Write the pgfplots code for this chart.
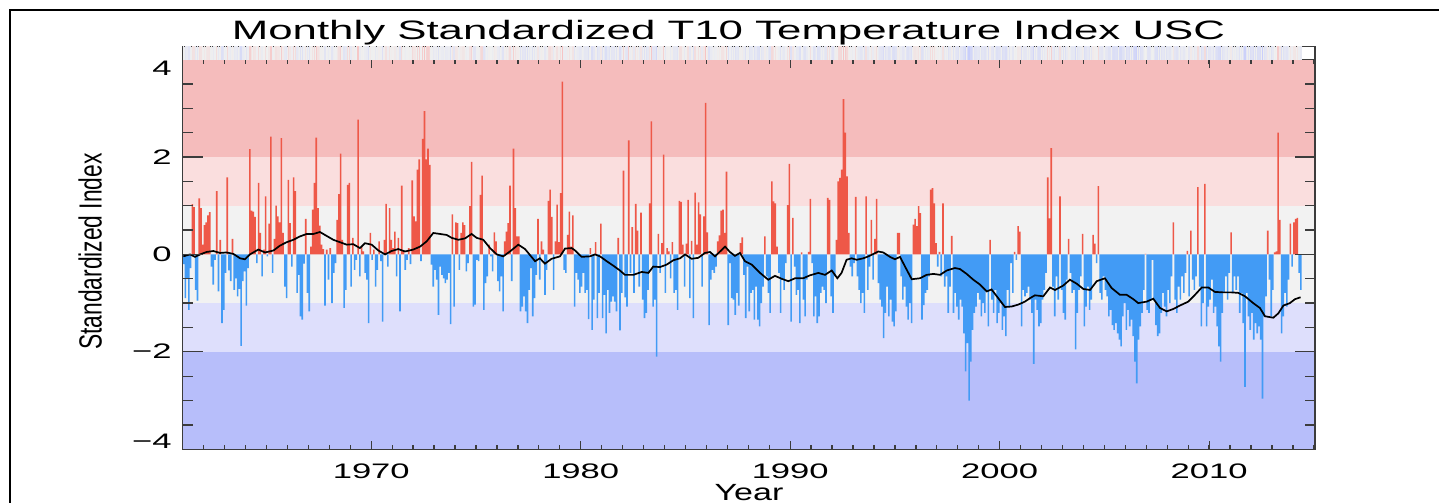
\documentclass[border=0pt]{standalone}
\usepackage{fontspec}
\setmainfont{Liberation Sans}
\usepackage{graphicx}
\usepackage{pgfplots}
\usepackage{pgfplotstable}
\pgfplotsset{compat=1.18}

\definecolor{axisgray}{RGB}{60,60,60}
\definecolor{barred}{RGB}{238,88,72}
\definecolor{barblue}{RGB}{66,155,245}
\definecolor{bandA}{RGB}{245,188,188}
\definecolor{bandB}{RGB}{250,222,222}
\definecolor{bandC}{RGB}{242,242,242}
\definecolor{bandD}{RGB}{222,223,252}
\definecolor{bandE}{RGB}{183,190,250}
\definecolor{stripgray}{RGB}{238,238,238}

\newcommand{\tl}[1]{\scalebox{1.73}[1.05]{\fontsize{10bp}{12bp}\selectfont #1}}

\pgfplotstableread[row sep=\\]{
v\\
-0.2\\ -0.9\\ -0.5\\
-1.14\\ -0.28\\ 1.03\\ 0.97\\ -0.73\\ -0.95\\ 1.15\\ 0.95\\ 0.2\\ 0.6\\
0.66\\ 0.8\\ 0.87\\ -0.25\\ -0.62\\ -0.11\\ 1.3\\ -0.76\\ 0.3\\ -1.41\\
-1.14\\ -0.38\\ 1.58\\ -0.33\\ -0.55\\ 0.32\\ -0.73\\ -0.49\\ -0.86\\ -0.71\\
-1.88\\ -0.55\\ -0.35\\ -1.05\\ -0.28\\ 2.16\\ 0.9\\ 0.88\\ 0.77\\ -0.18\\
1.47\\ 0.44\\ -0.45\\ 0.1\\ 1.19\\ -0.04\\ 0.63\\ 2.42\\ -0.38\\ 0.32\\
1.0\\ 0.78\\ 0.66\\ 2.39\\ 0.44\\ -0.66\\ -0.9\\ 1.53\\ 0.64\\ -0.25\\
1.58\\ 1.3\\ -0.79\\ -0.42\\ -1.27\\ -1.34\\ -0.19\\ 0.73\\ -0.79\\ -1.17\\
0.16\\ 0.92\\ 1.47\\ 2.4\\ 0.95\\ 0.59\\ 0.2\\ 0.11\\ -1.05\\ 0.1\\
-0.52\\ 0.13\\ -1.0\\ -0.38\\ -0.18\\ 0.71\\ 1.24\\ 2.07\\ 0.3\\ -1.1\\
-0.73\\ 1.43\\ 1.47\\ -0.66\\ 0.34\\ -0.32\\ -0.11\\ 2.77\\ -0.45\\ 0.16\\
0.06\\ -0.38\\ -0.52\\ -1.41\\ 0.44\\ -0.11\\ 0.1\\ -0.66\\ -0.32\\ 0.27\\
-0.14\\ -1.38\\ 0.3\\ 1.04\\ -0.25\\ 0.95\\ 0.3\\ 0.13\\ 0.47\\ -0.45\\
0.34\\ -1.17\\ 1.41\\ 0.06\\ -0.32\\ -0.11\\ 0.13\\ -0.2\\ 1.52\\ 0.78\\
0.68\\ 1.74\\ 1.95\\ -0.14\\ 2.37\\ 2.94\\ 1.95\\ 2.17\\ 1.84\\ -0.21\\
-0.66\\ -0.32\\ -0.52\\ -1.24\\ -0.25\\ -0.42\\ -0.49\\ -0.59\\ -0.52\\ -0.38\\
-1.43\\ 0.82\\ -1.07\\ 0.66\\ 0.64\\ -0.32\\ 0.44\\ 0.66\\ 0.6\\ -0.35\\
-0.18\\ 0.99\\ 1.9\\
-1.07\\ -1.03\\ -0.11\\ -0.14\\ 1.22\\ 1.62\\ -1.14\\ -0.59\\ -0.45\\ 0.2\\
-0.04\\ -0.35\\ 0.45\\ 0.27\\ -0.55\\ -0.76\\ -0.45\\ -1.17\\ 0.27\\ 0.47\\
0.64\\ 1.41\\ -0.55\\ 2.17\\ 0.95\\ 0.37\\ 0.37\\ -1.17\\ -1.07\\ -0.86\\
-1.17\\ -1.41\\ -0.73\\ -0.28\\ -1.27\\ -0.9\\ -0.42\\ 0.73\\ -0.52\\ 0.27\\
0.1\\ -0.83\\ -0.32\\ 1.1\\ 1.33\\ 0.77\\ -0.73\\ 0.27\\ 1.02\\ 0.25\\
1.26\\ 3.55\\ -0.32\\ -0.38\\ 0.4\\ 0.88\\ 0.16\\ 0.8\\ -1.07\\ -0.38\\
-0.52\\ -0.79\\ -0.66\\ -0.38\\ -0.79\\ -0.73\\ -1.33\\ 0.13\\ -1.55\\ -0.93\\
0.25\\ -1.31\\ -0.79\\ 0.63\\ -1.31\\ -0.83\\ -1.62\\ -0.73\\ -1.2\\ -0.97\\
-0.86\\ -0.97\\ -1.17\\ 0.34\\ -1.56\\ -0.79\\ 1.72\\ -0.88\\ -1.07\\ 2.34\\
-0.38\\ 0.56\\ -0.79\\ 1.04\\ 0.49\\ -0.66\\ 0.86\\ -0.93\\ -1.31\\ -1.2\\
-0.73\\ 1.05\\ 2.73\\ -1.07\\ -0.93\\ -2.1\\ 0.42\\ -0.38\\ 0.23\\ 2.05\\
-0.79\\ 0.13\\ 0.06\\ -0.49\\ 0.25\\ -0.79\\ -0.73\\ -1.14\\ 1.1\\ 1.08\\
0.2\\ -0.66\\ 0.22\\ 1.12\\ -0.9\\ 0.28\\ -1.31\\ 1.27\\ 0.2\\ 1.07\\
0.82\\ -0.66\\ 0.78\\ 3.11\\ 0.45\\ -1.45\\ -0.52\\ -0.32\\ -0.38\\ -0.25\\
0.27\\ 0.39\\ 0.9\\ 0.92\\ 0.44\\ 1.7\\ -1.45\\ -0.18\\ -0.9\\ -0.93\\
-1.24\\ -0.79\\ -1.05\\ 0.23\\ 0.35\\ -0.42\\ -1.31\\ -0.25\\ -1.17\\ -0.79\\
-0.73\\ -1.34\\ -0.66\\ -1.34\\ -1.48\\ -1.0\\ -0.66\\ 0.37\\ -0.45\\ -0.79\\
-1.2\\ 1.5\\ 1.09\\ 1.05\\ 0.16\\ -0.38\\ -1.2\\ -0.52\\ -0.73\\ -0.18\\
1.01\\ 1.86\\ -1.38\\ 0.75\\ -0.25\\ -0.83\\ -0.73\\ -1.41\\ 0.04\\ -0.93\\
-1.27\\ -0.52\\ 0.05\\ 1.14\\ -0.18\\ -1.27\\ -0.86\\ -1.41\\ -1.27\\ -0.79\\
-0.66\\ -0.73\\ -1.0\\ 1.16\\ 1.12\\ -0.86\\ -1.2\\ -0.45\\ 0.3\\ 1.5\\
1.57\\ 1.74\\ 3.19\\ 2.5\\ 1.6\\ 0.44\\ -0.25\\ -0.45\\ -0.18\\ 1.18\\
-0.45\\ -0.73\\ -1.0\\ -0.79\\ -1.2\\ 1.19\\ -0.73\\ -0.25\\ 0.71\\ -0.52\\
0.32\\ 1.14\\ -0.59\\ -0.93\\ -1.07\\ -1.72\\ -1.2\\ -0.66\\ -1.27\\ -0.93\\
-1.38\\ -1.48\\ -1.17\\ 0.44\\ 0.44\\ -0.45\\ -0.93\\ -0.66\\ -1.07\\ -1.34\\
-1.0\\ -1.41\\ 0.61\\ 0.73\\ 0.58\\ 0.99\\ 0.85\\ -1.34\\ -1.04\\ -0.79\\
-0.73\\ -0.45\\ 1.33\\ 1.36\\ 1.05\\ 0.23\\ -0.25\\ 0.05\\ -0.45\\ 1.05\\
-0.66\\ -0.45\\ -1.2\\ -0.66\\ 0.38\\ -1.2\\ -0.79\\ -1.07\\ -1.34\\ -0.93\\
-1.07\\ -1.62\\ -2.4\\ -1.82\\ -3.0\\ -2.2\\ -1.55\\ -1.2\\ -1.07\\ -0.79\\
-0.93\\ -1.27\\ -1.0\\ -1.2\\ -0.73\\ -1.48\\ 0.3\\ -0.93\\ -1.2\\ -0.73\\
-1.41\\ -1.2\\ -1.0\\ -1.55\\ -1.27\\ -1.68\\ -0.73\\ -1.07\\ -0.18\\ -0.79\\
0.05\\ -0.11\\ 0.58\\ 0.47\\ -1.48\\ -0.73\\ -0.86\\ -0.79\\
-0.66\\ -0.93\\ -1.2\\ -2.25\\ -0.93\\ -1.14\\ -1.48\\ -1.41\\ -0.93\\ -0.73\\
-0.38\\ 1.58\\ 0.74\\ 2.18\\ -0.66\\ -1.27\\ -0.45\\ -0.93\\ 1.19\\ -0.73\\
-1.2\\ -1.34\\ -0.52\\ 0.32\\ -0.38\\ -0.79\\ -0.73\\ -1.95\\ -1.2\\ -0.73\\
-0.45\\ 0.42\\ -1.48\\ -1.07\\ -0.66\\ -1.14\\ -0.93\\ 0.4\\ 0.22\\ -0.18\\
1.4\\ -0.79\\ -0.93\\ -0.45\\ -0.73\\ -0.86\\ -1.27\\ -1.14\\ -1.45\\ -1.55\\
-1.41\\ -1.62\\ -1.75\\ -1.89\\ -1.27\\ -1.0\\ -1.55\\ -1.14\\ -1.48\\ -1.34\\
-1.68\\ -2.2\\ -2.65\\ -1.75\\ -1.48\\ -1.2\\ -0.73\\ 0.01\\ -1.14\\ -1.2\\
-0.93\\ -0.11\\ -0.93\\ -1.45\\ -1.68\\ -1.62\\ -1.2\\ -0.79\\ -1.07\\ -1.27\\
-0.73\\ -1.0\\ -0.45\\ 0.66\\ -0.93\\ -1.2\\ -0.66\\ -0.93\\ -0.45\\ -0.79\\
-0.38\\ 0.07\\ -0.86\\ 0.49\\ -0.52\\ -0.73\\ -0.45\\ 1.38\\ -0.66\\ -1.48\\
-1.0\\ 1.45\\ -1.48\\ -1.07\\ -0.93\\ -0.52\\ -1.2\\ -1.07\\ -1.48\\ -1.89\\
-2.2\\ -1.2\\ -0.79\\ -0.45\\ -0.93\\ -0.38\\ 0.45\\ -0.79\\ -0.45\\ -0.73\\
-0.45\\ -1.2\\ -0.79\\ -1.41\\ -2.72\\ -0.79\\ -1.27\\ -1.55\\ -1.2\\ -1.75\\
-1.41\\ -1.62\\ -1.48\\ -1.75\\ -2.96\\ -1.27\\ -0.86\\ 0.49\\ -0.52\\ -1.27\\
-0.73\\ 0.04\\ 0.06\\ 2.5\\ 0.71\\ -1.62\\ -1.27\\ -0.79\\ -1.07\\ -0.52\\
0.63\\ -0.25\\ 0.66\\ 0.73\\ 0.75\\ -0.38\\ -0.73\\
}\tdata

\begin{document}
\begin{tikzpicture}
\path[use as bounding box] (0,0) rectangle (719.5bp,251.5bp);
\draw[line width=1bp, black] (5bp,0bp) -- (5bp,246.5bp) -- (719.5bp,246.5bp);

\begin{axis}[
  at={(91.35bp,26.9bp)}, anchor=south west, scale only axis,
  width=566.15bp, height=194.8bp,
  xmin=1961, xmax=2015.05, ymin=-4, ymax=4,
  axis on top,
  axis line style={line width=0.65bp, draw=axisgray},
  tick style={line width=0.65bp, draw=axisgray},
  major tick length=4bp, minor tick length=2bp,
  xtick={1970,1980,1990,2000,2010},
  xticklabels={\tl{1970},\tl{1980},\tl{1990},\tl{2000},\tl{2010}},
  minor xtick={1961,...,2015},
  ytick=\empty,
  xticklabel style={anchor=north, inner sep=0pt, yshift=-7.15bp},
]
\addplot[draw=none, fill=bandA] coordinates {(1961,2) (2015.05,2) (2015.05,4) (1961,4)} -- cycle;
\addplot[draw=none, fill=bandB] coordinates {(1961,1) (2015.05,1) (2015.05,2) (1961,2)} -- cycle;
\addplot[draw=none, fill=bandC] coordinates {(1961,-1) (2015.05,-1) (2015.05,1) (1961,1)} -- cycle;
\addplot[draw=none, fill=bandD] coordinates {(1961,-2) (2015.05,-2) (2015.05,-1) (1961,-1)} -- cycle;
\addplot[draw=none, fill=bandE] coordinates {(1961,-4) (2015.05,-4) (2015.05,-2) (1961,-2)} -- cycle;

\addplot[ybar, bar width=0.8bp, bar shift=0pt, draw=none, fill=barred,
  restrict y to domain=0:10]
  table[x expr=1961+(\coordindex+0.5)/12, y=v] {\tdata};
\addplot[ybar, bar width=0.8bp, bar shift=0pt, draw=none, fill=barblue,
  restrict y to domain=-10:0]
  table[x expr=1961+(\coordindex+0.5)/12, y=v] {\tdata};

\addplot[black, line width=0.85bp, mark=none] coordinates {
(1961.03,-0.04) (1961.35,0.0) (1961.59,-0.05) (1961.83,0.0) (1962.14,0.05) (1962.46,0.07)
(1962.78,0.03) (1963.10,0.04) (1963.42,0.01) (1963.74,-0.08) (1963.97,-0.10) (1964.21,0.0)
(1964.61,0.10) (1964.93,0.04) (1965.33,0.08) (1965.64,0.18) (1965.96,0.25) (1966.28,0.30)
(1966.60,0.37) (1966.92,0.42) (1967.24,0.42) (1967.55,0.46) (1967.87,0.38) (1968.19,0.30)
(1968.51,0.25) (1968.83,0.20) (1969.14,0.21) (1969.46,0.13) (1969.70,0.23) (1970.02,0.20)
(1970.34,0.08) (1970.66,0.0) (1970.97,0.07) (1971.29,0.11) (1971.61,0.06) (1972.01,0.10)
(1972.33,0.16) (1972.65,0.27) (1972.96,0.44) (1973.28,0.42) (1973.60,0.40) (1973.84,0.34)
(1974.16,0.30) (1974.48,0.33) (1974.79,0.42) (1975.03,0.34) (1975.35,0.30) (1975.67,0.13)
(1975.99,0.0) (1976.30,-0.04) (1976.62,0.06) (1977.02,0.20) (1977.34,0.11) (1977.82,-0.14)
(1978.05,-0.08) (1978.29,-0.19) (1978.61,-0.09) (1979.01,-0.04) (1979.25,0.12) (1979.57,0.13)
(1979.73,0.08) (1980.04,-0.05) (1980.44,-0.04) (1980.68,0.0) (1980.92,-0.04) (1981.24,-0.14)
(1981.55,-0.23) (1981.87,-0.33) (1982.11,-0.42) (1982.51,-0.42) (1982.91,-0.36) (1983.23,-0.38)
(1983.46,-0.25) (1983.78,-0.26) (1984.10,-0.21) (1984.42,-0.12) (1984.74,-0.08) (1984.98,0.0)
(1985.29,-0.09) (1985.61,-0.07) (1985.93,0.03) (1986.17,0.05) (1986.41,-0.04) (1986.65,0.06)
(1986.89,0.16) (1987.12,0.05) (1987.36,-0.03) (1987.60,0.03) (1987.84,-0.14) (1988.16,-0.21)
(1988.56,-0.38) (1988.95,-0.52) (1989.27,-0.44) (1989.59,-0.50) (1989.91,-0.55) (1990.23,-0.49)
(1990.62,-0.49) (1990.94,-0.43) (1991.34,-0.38) (1991.66,-0.42) (1991.98,-0.33) (1992.25,-0.49)
(1992.45,-0.38) (1992.69,-0.11) (1992.93,-0.08) (1993.17,-0.11) (1993.49,-0.08) (1993.73,-0.04)
(1993.97,0.01) (1994.20,0.06) (1994.44,0.04) (1994.76,-0.05) (1995.00,-0.10) (1995.24,-0.05)
(1995.48,-0.25) (1995.80,-0.51) (1996.19,-0.49) (1996.51,-0.42) (1996.83,-0.40) (1997.15,-0.42)
(1997.47,-0.33) (1997.86,-0.28) (1998.10,-0.30) (1998.42,-0.40) (1998.74,-0.52) (1999.06,-0.62)
(1999.38,-0.76) (1999.61,-0.72) (1999.93,-0.90) (2000.25,-1.08) (2000.57,-1.07) (2000.89,-1.03)
(2001.20,-0.97) (2001.44,-0.90) (2001.68,-0.84) (2002.08,-0.86) (2002.40,-0.68) (2002.64,-0.73)
(2003.03,-0.64) (2003.35,-0.52) (2003.67,-0.60) (2003.99,-0.71) (2004.31,-0.73) (2004.63,-0.55)
(2005.02,-0.49) (2005.34,-0.69) (2005.74,-0.83) (2006.06,-0.83) (2006.38,-0.92) (2006.61,-1.00)
(2007.01,-0.97) (2007.33,-0.91) (2007.65,-1.10) (2007.97,-1.17) (2008.29,-1.12) (2008.60,-1.05)
(2009.00,-0.97) (2009.32,-0.83) (2009.64,-0.68) (2009.96,-0.68) (2010.27,-0.77) (2010.67,-0.78)
(2011.07,-0.78) (2011.39,-0.79) (2011.71,-0.86) (2012.10,-1.00) (2012.42,-1.10) (2012.66,-1.27)
(2013.06,-1.30) (2013.30,-1.21) (2013.54,-1.05) (2013.85,-1.00) (2014.09,-0.92) (2014.36,-0.88)
};
\end{axis}

\begin{axis}[
  at={(91.35bp,26.9bp)}, anchor=south west, scale only axis,
  width=566.15bp, height=194.8bp,
  xmin=1961, xmax=2015.05, ymin=-4, ymax=4,
  axis line style={draw=none},
  tick style={line width=0.65bp, draw=axisgray},
  major tick length=10bp, minor tick length=5bp,
  xtick=\empty,
  ytick={-4,-2,0,2,4},
  minor ytick={-3.5,-3,...,3.5},
  yticklabels={
    \raisebox{0.35bp}[0pt][0pt]{\tl{−4}},
    \raisebox{-3.25bp}[0pt][0pt]{\tl{−2}},
    \raisebox{-3.75bp}[0pt][0pt]{\tl{0}},
    \raisebox{-3.75bp}[0pt][0pt]{\tl{2}},
    \raisebox{-8.1bp}[0pt][0pt]{\tl{4}}},
  yticklabel style={anchor=east, inner sep=0pt, xshift=-5.35bp},
]
\addplot[draw=none, forget plot] coordinates {(1961,0)};
\end{axis}

\begin{axis}[
  at={(91.35bp,221.7bp)}, anchor=south west, scale only axis,
  width=566.15bp, height=6.45bp,
  xmin=1961, xmax=2015.05, ymin=0, ymax=1,
  axis line style={line width=0.65bp, draw=axisgray},
  ticks=none,
  colormap={strip}{rgb255=(200,206,250) rgb255=(240,240,240) rgb255=(246,196,196)},
  point meta min=-3, point meta max=3,
]
\addplot[draw=none, fill=stripgray] coordinates {(1961,0) (2014.45,0) (2014.45,1) (1961,1)} -- cycle;
\addplot[scatter, only marks, mark=|, mark size=3.4bp, point meta=\thisrow{v},
  scatter/use mapped color={draw=mapped color, fill=mapped color},
  mark options={line width=0.7bp}]
  table[x expr=1961+(\coordindex+0.5)/12, y=v, y expr=0.5] {\tdata};
\end{axis}

\node[anchor=base, inner sep=0pt] at (364.25bp,231.5bp)
  {\scalebox{2.19}[1.33]{\fontsize{10bp}{12bp}\selectfont Monthly Standardized T10 Temperature Index USC}};
\node[anchor=base, inner sep=0pt, rotate=90] at (50.75bp,125.75bp)
  {\scalebox{1.14}[1.6]{\fontsize{10bp}{12bp}\selectfont Standardized Index}};
\node[anchor=base, inner sep=0pt] at (374.5bp,1.5bp)
  {\scalebox{1.70}[1.17]{\fontsize{10bp}{12bp}\selectfont Year}};
\end{tikzpicture}
\end{document}
